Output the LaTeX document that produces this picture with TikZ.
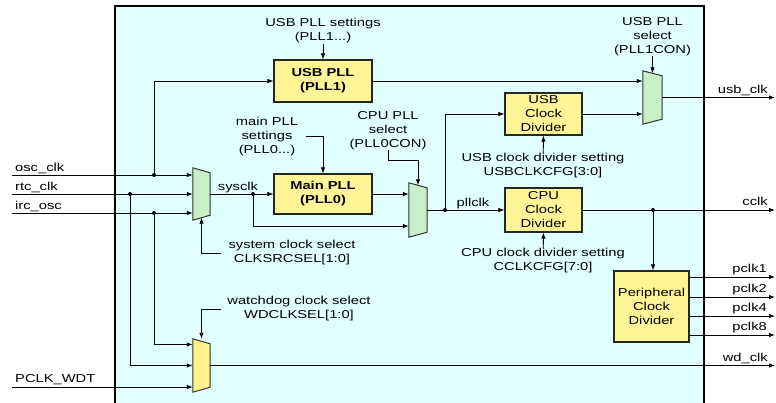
\documentclass[tikz,border=0pt]{standalone}
\usepackage{fontspec}
\setmainfont[FakeStretch=1.28]{Liberation Sans}
\usetikzlibrary{arrows.meta}

\definecolor{panelcyan}{RGB}{226,255,255}
\definecolor{boxyellow}{RGB}{255,245,150}
\definecolor{muxgreen}{RGB}{200,240,200}
\definecolor{muxyellow}{RGB}{255,242,140}

\tikzset{
  blk/.style={draw=black!85, line width=1.1pt, fill=boxyellow, align=center,
    inner sep=0pt, font=\fontsize{11.5}{14}\selectfont},
  muxbox/.style={inner sep=0pt, minimum width=18pt, minimum height=53pt},
  lbl/.style={align=center, inner sep=0pt, font=\fontsize{11.5}{14}\selectfont},
  sig/.style={line width=0.9pt, -{Latex[length=6pt,width=4.5pt]}},
  dot/.style={circle, fill=black, inner sep=0pt, minimum size=4pt},
}

\begin{document}
\begin{tikzpicture}[x=1pt,y=-1pt]
    \useasboundingbox (0,0) rectangle (776,402);
    % the chip area
    \fill[panelcyan] (115,6) rectangle (704,410);
    \draw[line width=1.1pt] (115,410) -- (115,6) -- (704,6) -- (704,410);

    % blocks
    \node[blk, minimum width=98pt, minimum height=42pt] (usbpll) at (323,81) {\textbf{USB PLL}\\\textbf{(PLL1)}};
    \node[blk, minimum width=98pt, minimum height=40pt] (mainpll) at (323,194) {\textbf{Main PLL}\\\textbf{(PLL0)}};
    \node[blk, minimum width=77pt, minimum height=42pt] (usbdiv) at (543.5,114) {USB\\Clock\\Divider};
    \node[blk, minimum width=77pt, minimum height=44pt] (cpudiv) at (543.5,210) {CPU\\Clock\\Divider};
    \node[blk, minimum width=75pt, minimum height=71pt] (periph) at (651.5,306.5) {Peripheral\\Clock\\Divider};

    % multiplexers
    \node[muxbox, minimum width=17pt, minimum height=52pt] (msys) at (201.5,194) {};
    \node[muxbox, minimum width=17pt] (mwdt) at (201.5,365.5) {};
    \node[muxbox, minimum height=54pt] (mcpu) at (418,210) {};
    \node[muxbox, minimum width=19pt] (musb) at (652.5,97.5) {};
    \foreach \m/\c in {msys/muxgreen, mcpu/muxgreen, musb/muxgreen, mwdt/muxyellow}
        \draw[line width=1pt, draw=black!80, fill=\c] (\m.north west) -- ([yshift=-5pt]\m.north east)
            -- ([yshift=5pt]\m.south east) -- (\m.south west) -- cycle;

    % control labels
    \node[lbl] (usbset) at (323,31) {USB PLL settings\\(PLL1...)};
    \node[lbl] (mainset) at (267,136.5) {main PLL\\settings\\(PLL0...)};
    \node[lbl] (cpusel) at (388,131) {CPU PLL\\select\\(PLL0CON)};
    \node[lbl] (usbsel) at (652.5,37) {USB PLL\\select\\(PLL1CON)};
    \node[lbl] (syssel) at (292,253) {system clock select\\CLKSRCSEL[1:0]};
    \node[lbl] (wdsel) at (299,309) {watchdog clock select\\WDCLKSEL[1:0]};
    \node[lbl] (usbdset) at (543,165.5) {USB clock divider setting\\USBCLKCFG[3:0]};
    \node[lbl] (cpuset) at (543,261) {CPU clock divider setting\\CCLKCFG[7:0]};

    \draw[sig] (usbset) -- (usbpll.north);
    \draw[sig] ([xshift=8pt]mainset.east) -| (mainpll.north);
    \draw[sig] (cpusel.south) -- ++(0,10) -| ([yshift=-2.5pt]mcpu.north);
    \draw[sig] (usbsel.south) -- ([yshift=-2.5pt]musb.north);
    \draw[sig] ([xshift=-7pt]syssel.west) -| ([yshift=2.5pt]msys.south);
    \draw[sig] ([xshift=-6pt]wdsel.west) -| (mwdt.north);
    \draw[sig] (usbdset) -- (usbdiv.south);
    \draw[sig] (cpuset) -- (cpudiv.south);

    % inputs
    \coordinate (oscin) at (12,175);
    \coordinate (rtcin) at (12,194);
    \coordinate (ircin) at (12,213);
    \coordinate (wdtin) at (12,387);
    \node[lbl, anchor=base west] (osclbl) at (15,171) {osc\_clk};
    \node[lbl, anchor=base west] (rtclbl) at (15,190) {rtc\_clk};
    \node[lbl, anchor=base west] (irclbl) at (15,209) {irc\_osc};
    \node[lbl, anchor=base west] (wdtlbl) at (15,382) {PCLK\_WDT};

    \node[dot] (josc) at (154,175) {};
    \node[dot] (jrtc) at (130,194) {};
    \node[dot] (jirc) at (154,213) {};
    \draw[sig] (oscin) -- (msys.west |- oscin);
    \draw[sig] (rtcin) -- (msys.west |- rtcin);
    \draw[sig] (ircin) -- (msys.west |- ircin);
    \draw[sig] (wdtin) -- (mwdt.west |- wdtin);
    \draw[sig] (josc) |- (usbpll.west);
    \draw[sig] (jirc) |- ([yshift=21pt]mwdt.west);
    \draw[sig] (jrtc) |- (mwdt.west);

    % system clock path
    \node[lbl, anchor=base] (syslbl) at (238,190) {sysclk};
    \node[dot] (jsys) at (253,194) {};
    \draw[sig] (msys.east) -- (mainpll.west);
    \draw[sig] (jsys) |- ([yshift=-16pt]mcpu.west);
    \draw[sig] (mainpll.east) -- (mcpu.west |- mainpll.east);

    % pll clock path
    \node[lbl, anchor=base] (plllbl) at (473,206) {pllclk};
    \node[dot] (jpll) at (445,210) {};
    \draw[sig] (mcpu.east) -- (cpudiv.west);
    \draw[sig] (jpll) |- (usbdiv.west);
    \draw[sig] (usbpll.east) -- (musb.west |- usbpll.east);
    \draw[sig] (usbdiv.east) -- (musb.west |- usbdiv.east);

    % outputs
    \coordinate (usbout) at (775,97.5);
    \coordinate (cclkout) at (775,210);
    \coordinate (wdout) at (775,365.5);
    \node[lbl, anchor=base east] (usblbl) at (768,93) {usb\_clk};
    \node[lbl, anchor=base east] (cclklbl) at (768,205) {cclk};
    \node[lbl, anchor=base east] (wdlbl) at (768,361) {wd\_clk};
    \draw[sig] (musb.east) -- (usbout);
    \draw[sig] (cpudiv.east) -- (cclkout);
    \draw[sig] (mwdt.east) -- (wdout);
    \node[dot] (jcclk) at (653,210) {};
    \draw[sig] (jcclk) -- (jcclk |- periph.north);
    \foreach \y/\n in {277/1, 297/2, 316/4, 335/8} {
        \coordinate (pout\n) at (775,\y);
        \node[lbl, anchor=base east] (plbl\n) at (767,\y-5) {pclk\n};
        \draw[sig] (periph.east |- pout\n) -- (pout\n);
    }
\end{tikzpicture}
\end{document}
